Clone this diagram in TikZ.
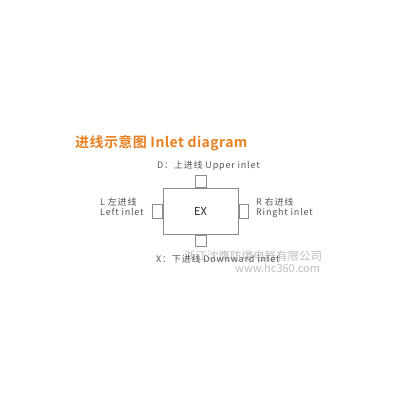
\documentclass[tikz,border=0pt]{standalone}
\usepackage{fontspec}
\setmainfont{Noto Sans CJK SC}
\newfontfamily\cjk{Noto Sans CJK SC}
\newfontfamily\cjkl[LetterSpace=9]{Noto Sans CJK SC}
\newfontfamily\cjkb[LetterSpace=3]{Noto Sans CJK SC Bold}
\definecolor{titleorange}{RGB}{232,128,32}
\definecolor{linegray}{RGB}{140,140,140}
\definecolor{textgray}{RGB}{85,85,85}
\definecolor{wmgray}{RGB}{190,190,190}
\begin{document}
\begin{tikzpicture}[x=1pt,y=1pt,
  box/.style={draw=linegray,line width=1pt},
  lab/.style={text=textgray,font=\cjkl\fontsize{9}{11}\selectfont,anchor=west,inner sep=0pt},
  wm/.style={text=wmgray,anchor=west,inner sep=0pt}]
\useasboundingbox[fill=white] (0,0) rectangle (400,-400);
% title
\node[anchor=west,inner sep=0pt,text=titleorange,font=\cjkb\fontsize{14}{16}\selectfont] (title) at (75,-143) {进线示意图 Inlet diagram};
% main box
\node[box,minimum width=75pt,minimum height=46pt,inner sep=0pt,font=\cjk\fontsize{11}{13}\selectfont,text=black!85] (ex) at (200.5,-211) {EX};
% inlet squares
\node[box,minimum width=11pt,minimum height=11.5pt,inner sep=0pt,anchor=south] (up) at (ex.north) {};
\node[box,minimum width=11pt,minimum height=11.5pt,inner sep=0pt,anchor=north] (dn) at (ex.south) {};
\node[box,minimum width=9.5pt,minimum height=14pt,inner sep=0pt,anchor=east] (lt) at (ex.west) {};
\node[box,minimum width=9.5pt,minimum height=14pt,inner sep=0pt,anchor=west] (rt) at (ex.east) {};
% watermark
\node[wm,font=\cjk\fontsize{11.5}{13}\selectfont] (wm1) at (184,-256) {浙江沈鹰防爆电器有限公司};
\node[wm,font=\cjk\fontsize{11}{12}\selectfont] (wm2) at (235,-268) {www.hc360.com};
% labels
\node[lab] (ulab) at (157,-166) {D：上进线 Upper inlet};
\node[lab,align=left,anchor=north west] (llab) at (100,-198) {L 左进线\\[-1pt]Left inlet};
\node[lab,align=left,anchor=north west] (rlab) at (256,-198) {R 右进线\\[-1pt]Ringht inlet};
\node[lab] (dlab) at (156,-259) {X：下进线 Downward inlet};
\end{tikzpicture}
\end{document}
